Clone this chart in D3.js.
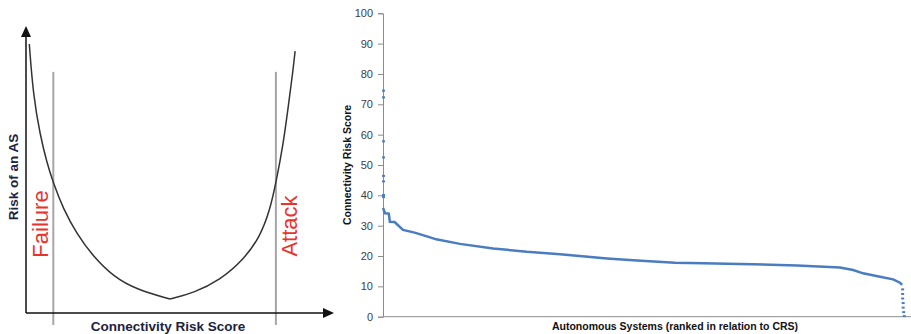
<!DOCTYPE html>
<html>
<head>
<meta charset="utf-8">
<script src="https://cdn.jsdelivr.net/npm/d3@7"></script>
<style>
  body { margin: 0; background: #fff; }
  svg { display: block; font-family: "Liberation Sans", Arial, sans-serif; }
</style>
</head>
<body>
<div id="chart"></div>
<script>
// left panel: conceptual risk curve (units 0..100 on both axes)
const riskX = [1.1, 2.4, 4.7, 6.9, 9.1, 12.4, 16.9, 22.4, 29.1, 36.9, 48, 55.8, 64.7, 72.4, 78, 81.3, 83.3, 85.8, 87.4, 88.9, 89.7];
const riskY = [94.4, 76.5, 62.5, 53.0, 45.6, 36.6, 27.8, 19.8, 12.8, 8.2, 4.9, 7.0, 11.6, 18.6, 26.7, 36.1, 45.6, 59.6, 72.3, 84.2, 91.9];
const thresholds = [9.1, 83.3];
const thresholdLabels = ["Failure", "Attack"];

// right panel: ranked connectivity risk score (rank in 0..1000)
const rankPos = [0, 4, 11, 13, 22, 38, 60, 85, 101, 146, 209, 273, 336, 425, 482, 554, 607, 677, 786, 867, 892, 911, 943, 968, 981, 985];
const crsValues = [35.8, 34.1, 34.0, 31.3, 31.2, 28.6, 27.7, 26.4, 25.5, 24.0, 22.5, 21.4, 20.6, 19.2, 18.5, 17.8, 17.6, 17.4, 16.9, 16.2, 15.4, 14.3, 13.2, 12.3, 11.2, 10.5];
const outlierRank = [1, 1, 1, 1, 1, 1, 1, 1, 986, 986, 986, 987, 987, 988, 989];
const outlierCrs = [74.5, 72.3, 57.8, 52.5, 46.4, 44.6, 40.1, 39.4, 9, 7.5, 6, 4.5, 3, 1.5, 0.2];
const yTicks = [0, 10, 20, 30, 40, 50, 60, 70, 80, 90, 100];

const svg = d3.select('#chart').append('svg').attr('width', 911).attr('height', 334);

// ---------- left panel ----------
const lx = d3.scaleLinear().domain([0, 100]).range([26, 326]);
const ly = d3.scaleLinear().domain([0, 100]).range([313, 28]);
const left = svg.append('g');

left.selectAll('.thr').data(thresholds).enter().append('line')
    .attr('x1', d => lx(d)).attr('x2', d => lx(d))
    .attr('y1', ly(84.6)).attr('y2', ly(-4.2))
    .attr('stroke', '#a6a6a6').attr('stroke-width', 2);

// the curve is drawn in two halves meeting at the minimum (slight cusp)
const minIdx = riskY.indexOf(d3.min(riskY));
const halves = [d3.range(0, minIdx + 1), d3.range(minIdx, riskX.length)];
const curveLine = d3.line()
    .x(i => lx(riskX[i]))
    .y(i => ly(riskY[i]))
    .curve(d3.curveBasis);
left.selectAll('.risk').data(halves).enter().append('path')
    .attr('d', curveLine)
    .attr('fill', 'none')
    .attr('stroke', '#333')
    .attr('stroke-width', 1.5);

// axes with arrows
left.append('line').attr('x1', lx(0)).attr('x2', lx(0)).attr('y1', ly(0)).attr('y2', 36)
    .attr('stroke', '#111').attr('stroke-width', 1.5);
left.append('path').attr('d', `M${lx(0)},26 L${lx(0) - 5},37 L${lx(0) + 5},37 Z`).attr('fill', '#111');
left.append('line').attr('x1', lx(0)).attr('x2', 324).attr('y1', ly(0)).attr('y2', ly(0))
    .attr('stroke', '#111').attr('stroke-width', 1.5);
left.append('path').attr('d', `M334,${ly(0)} L323,${ly(0) - 5} L323,${ly(0) + 5} Z`).attr('fill', '#111');

left.append('text')
    .attr('x', 168).attr('y', 331)
    .attr('text-anchor', 'middle')
    .attr('font-size', 13.5).attr('font-weight', 'bold').attr('fill', '#1c2340')
    .text('Connectivity Risk Score');
left.append('text')
    .attr('transform', 'translate(18,177) rotate(-90)')
    .attr('text-anchor', 'middle')
    .attr('font-size', 13.5).attr('font-weight', 'bold').attr('fill', '#1c2340')
    .text('Risk of an AS');

left.selectAll('.lbl').data(thresholdLabels).enter().append('text')
    .attr('transform', (d, i) => i === 0 ? 'translate(48,224) rotate(-90)' : 'translate(297,226) rotate(-90)')
    .attr('text-anchor', 'middle')
    .attr('font-size', 22).attr('fill', '#e8332b')
    .text(d => d);

// ---------- right panel ----------
const x = d3.scaleLinear().domain([0, 1000]).range([383, 910]);
const y = d3.scaleLinear().domain([0, 100]).range([316.7, 13.3]);
const right = svg.append('g');

const yAxis = right.append('g')
    .attr('transform', `translate(${x(0)},0)`)
    .call(d3.axisLeft(y).tickValues(yTicks).tickSize(5).tickPadding(5));
yAxis.select('.domain').attr('stroke', '#8c8c8c');
yAxis.selectAll('.tick line').attr('stroke', '#8c8c8c');
yAxis.selectAll('.tick text').attr('font-size', 11).attr('fill', '#404040')
    .attr('font-family', '"Liberation Sans", Arial, sans-serif');

right.append('line')
    .attr('x1', x(0)).attr('x2', 911).attr('y1', y(0)).attr('y2', y(0))
    .attr('stroke', '#8c8c8c');

const crsLine = d3.line()
    .x((d, i) => x(rankPos[i]))
    .y((d, i) => y(crsValues[i]));
right.append('path')
    .datum(crsValues)
    .attr('d', crsLine)
    .attr('fill', 'none')
    .attr('stroke', '#4a7cc0')
    .attr('stroke-width', 2.5);

right.selectAll('.out').data(outlierCrs).enter().append('rect')
    .attr('x', (d, i) => x(outlierRank[i]) - 1.5)
    .attr('y', d => y(d) - 1)
    .attr('width', 3).attr('height', 2)
    .attr('fill', '#4a7cc0');

right.append('text')
    .attr('transform', 'translate(351,165) rotate(-90)')
    .attr('text-anchor', 'middle')
    .attr('font-size', 10.5).attr('font-weight', 'bold').attr('fill', '#111')
    .text('Connectivity Risk Score');
right.append('text')
    .attr('x', 675).attr('y', 330)
    .attr('text-anchor', 'middle')
    .attr('font-size', 10.5).attr('font-weight', 'bold').attr('fill', '#111')
    .text('Autonomous Systems (ranked in relation to CRS)');
</script>
</body>
</html>
